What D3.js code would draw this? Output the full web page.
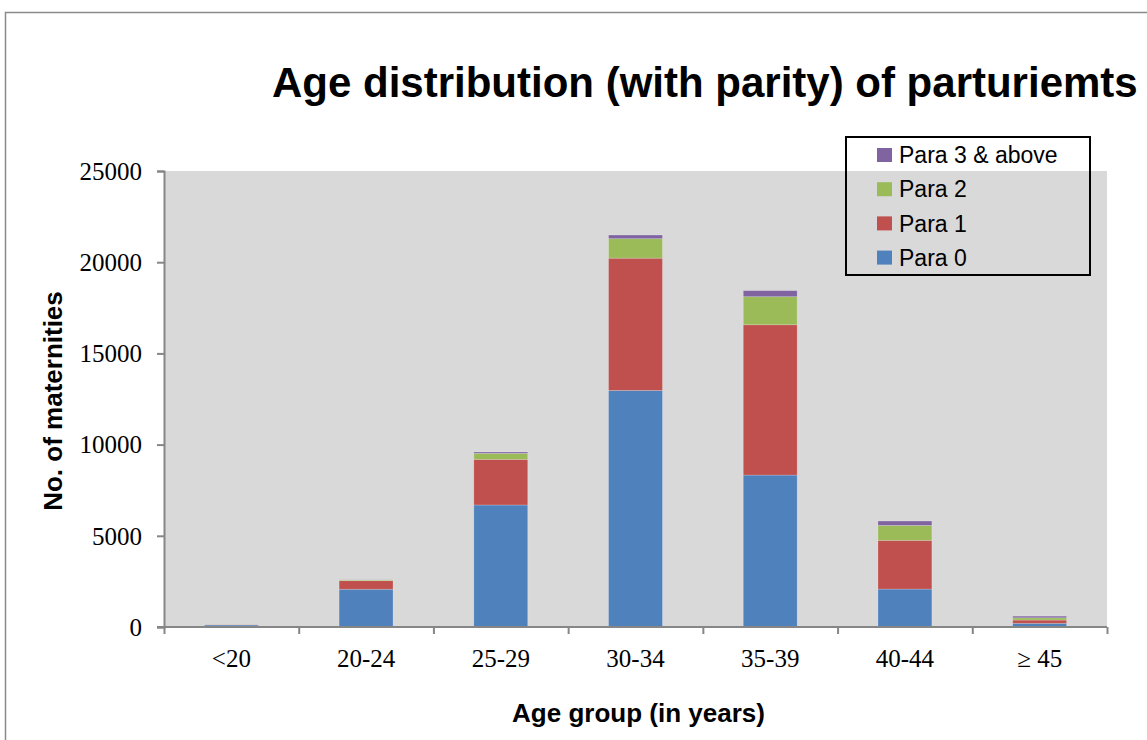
<!DOCTYPE html>
<html>
<head>
<meta charset="utf-8">
<script src="https://cdn.jsdelivr.net/npm/d3@7"></script>
<style>
  body { margin: 0; background: #fff; }
  svg { display: block; }
</style>
</head>
<body>
<div id="chart"></div>
<script>
// data
const ageGroups = ["<20", "20-24", "25-29", "30-34", "35-39", "40-44", "\u2265 45"];
const para0 = [110, 2070, 6690, 12970, 8330, 2080, 200];
const para1 = [25, 470, 2500, 7250, 8240, 2670, 180];
const para2 = [8, 40, 330, 1070, 1540, 820, 125];
const para3 = [2, 10, 75, 200, 330, 240, 90];
const seriesNames = ["Para 0", "Para 1", "Para 2", "Para 3 & above"];
const seriesColors = ["#4F81BD", "#C0504D", "#9BBB59", "#8064A2"];
const yTicks = [0, 5000, 10000, 15000, 20000, 25000];

const width = 1147, height = 740;
const plot = { left: 164, right: 1107, top: 171, bottom: 627 };

const svg = d3.select("#chart").append("svg")
    .attr("width", width)
    .attr("height", height);

// outer chart frame (runs off the right and bottom edge)
svg.append("rect")
    .attr("x", 5.5).attr("y", 12.5)
    .attr("width", 1200).attr("height", 800)
    .attr("fill", "#fff")
    .attr("stroke", "#8a8a8a")
    .attr("stroke-width", 1.5);

// plot area background
svg.append("rect")
    .attr("x", plot.left).attr("y", plot.top)
    .attr("width", plot.right - plot.left)
    .attr("height", plot.bottom - plot.top)
    .attr("fill", "#D9D9D9");

const table = ageGroups.map((g, i) => ({
    group: g, p0: para0[i], p1: para1[i], p2: para2[i], p3: para3[i]
}));
const keys = ["p0", "p1", "p2", "p3"];
const stacked = d3.stack().keys(keys)(table);

const x = d3.scaleBand()
    .domain(ageGroups)
    .range([plot.left, plot.right])
    .paddingInner(0.6)
    .paddingOuter(0.3);

const y = d3.scaleLinear()
    .domain([0, 25000])
    .range([plot.bottom, plot.top]);

// bars
svg.append("g").selectAll("g")
    .data(stacked)
    .join("g")
    .attr("fill", (d, i) => seriesColors[i])
    .selectAll("rect")
    .data(d => d)
    .join("rect")
    .attr("x", d => x(d.data.group))
    .attr("width", x.bandwidth())
    .attr("y", d => y(d[1]))
    .attr("height", d => y(d[0]) - y(d[1]))
    .attr("stroke", "rgba(255,255,255,0.25)")
    .attr("stroke-width", 0.8);

// y axis
const yAxis = svg.append("g")
    .attr("transform", `translate(${plot.left},0)`)
    .call(d3.axisLeft(y).tickValues(yTicks).tickSize(7).tickPadding(15).tickFormat(d3.format("d")));
yAxis.select(".domain").attr("stroke", "#868686").attr("stroke-width", 2);
yAxis.selectAll(".tick line").attr("stroke", "#868686").attr("stroke-width", 2);
yAxis.selectAll(".tick text")
    .attr("font-family", "'Liberation Serif', 'Times New Roman', serif")
    .attr("font-size", 25)
    .attr("fill", "#000")
    .attr("dy", "0.33em");

// x axis: category boundary ticks
const xb = d3.scaleLinear().domain([0, ageGroups.length]).range([plot.left, plot.right]);
const xTickAxis = svg.append("g")
    .attr("transform", `translate(0,${plot.bottom})`)
    .call(d3.axisBottom(xb).ticks(ageGroups.length).tickSize(7).tickFormat(""));
xTickAxis.select(".domain").remove();
xTickAxis.selectAll(".tick line").attr("stroke", "#868686").attr("stroke-width", 2);
svg.append("line")
    .attr("x1", plot.left - 7).attr("x2", plot.right)
    .attr("y1", plot.bottom).attr("y2", plot.bottom)
    .attr("stroke", "#868686").attr("stroke-width", 2);

// x axis: labels
const xAxis = svg.append("g")
    .attr("transform", `translate(0,${plot.bottom})`)
    .call(d3.axisBottom(x).tickSize(0).tickPadding(22));
xAxis.select(".domain").remove();
xAxis.selectAll(".tick text")
    .attr("font-family", "'Liberation Serif', 'Times New Roman', serif")
    .attr("font-size", 25)
    .attr("fill", "#000");

// title
svg.append("text")
    .attr("x", 272).attr("y", 97)
    .attr("font-family", "'Liberation Sans', Arial, sans-serif")
    .attr("font-weight", "bold")
    .attr("font-size", 42)
    .text("Age distribution (with parity) of parturiemts");

// axis titles
svg.append("text")
    .attr("x", (plot.left + plot.right) / 2 + 3).attr("y", 722)
    .attr("text-anchor", "middle")
    .attr("font-family", "'Liberation Sans', Arial, sans-serif")
    .attr("font-weight", "bold")
    .attr("font-size", 26)
    .text("Age group (in years)");

svg.append("text")
    .attr("transform", "translate(62,401) rotate(-90)")
    .attr("text-anchor", "middle")
    .attr("font-family", "'Liberation Sans', Arial, sans-serif")
    .attr("font-weight", "bold")
    .attr("font-size", 26)
    .text("No. of maternities");

// legend (no fill, series in reverse order)
const legend = svg.append("g").attr("transform", "translate(846,137)");
legend.append("rect")
    .attr("width", 244).attr("height", 138)
    .attr("fill", "none")
    .attr("stroke", "#000")
    .attr("stroke-width", 2);
const legendItems = legend.selectAll("g.item")
    .data(d3.range(seriesNames.length).reverse())
    .join("g")
    .attr("class", "item")
    .attr("transform", (d, i) => `translate(31,${18 + i * 34.2})`);
legendItems.append("rect")
    .attr("y", -7).attr("width", 15).attr("height", 14)
    .attr("fill", d => seriesColors[d]);
legendItems.append("text")
    .attr("x", 22).attr("dy", "0.36em")
    .attr("font-family", "'Liberation Sans', Arial, sans-serif")
    .attr("font-size", 23)
    .attr("fill", "#000")
    .text(d => seriesNames[d]);
</script>
</body>
</html>
